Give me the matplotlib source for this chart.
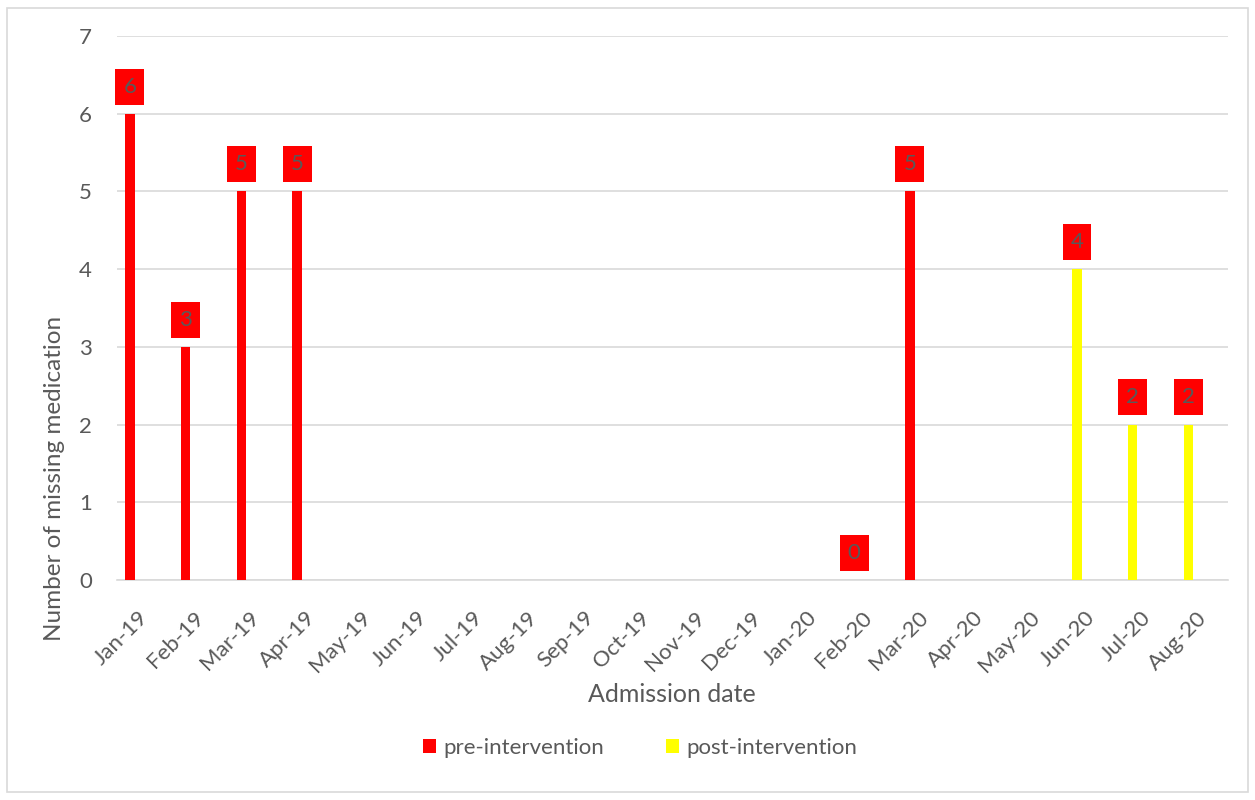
import numpy as np
import matplotlib.pyplot as plt
import matplotlib.transforms as mtransforms
from matplotlib.patches import Rectangle

# months on the axis
months = ["Jan-19", "Feb-19", "Mar-19", "Apr-19", "May-19", "Jun-19", "Jul-19",
          "Aug-19", "Sep-19", "Oct-19", "Nov-19", "Dec-19", "Jan-20", "Feb-20",
          "Mar-20", "Apr-20", "May-20", "Jun-20", "Jul-20", "Aug-20"]

# missing medication counts (nan = no data point)
pre = [6, 3, 5, 5, np.nan, np.nan, np.nan, np.nan, np.nan, np.nan, np.nan,
       np.nan, np.nan, 0, 5, np.nan, np.nan, np.nan, np.nan, np.nan]
post = [np.nan] * 17 + [4, 2, 2]

grey = "#595959"
plt.rcParams['font.family'] = ['Lato', 'DejaVu Sans']

fig = plt.figure(figsize=(12.55, 8), dpi=100)
ax = fig.add_axes([117 / 1255, 1 - 580 / 800, (1228 - 117) / 1255, (580 - 36) / 800])

x = np.arange(len(months))
pre = np.array(pre, dtype=float)
post = np.array(post, dtype=float)
ax.bar(x, np.nan_to_num(pre), width=0.17, color="#ff0000", label="pre-intervention", zorder=3)
ax.bar(x, np.nan_to_num(post), width=0.17, color="#ffff00", label="post-intervention", zorder=3)

# data labels in red boxes
for serie in (pre, post):
    for xi, v in zip(x, serie):
        if np.isnan(v):
            continue
        ax.annotate(f"{int(v)}", (xi, v), xytext=(0, 19.5), textcoords="offset points",
                    ha="center", va="center", fontsize=16, color=grey, zorder=5,
                    bbox=dict(boxstyle="square,pad=0.36", fc="#ff0000", ec="none"))

ax.set_xlim(-0.233, 19.71)
ax.set_ylim(0, 7)
ax.set_yticks(range(8))
ax.set_xticks(x)
ax.set_xticklabels(months, rotation=45, ha="right", rotation_mode="anchor")
ax.tick_params(axis="both", length=0, colors=grey, labelsize=16)
ax.tick_params(axis="x", pad=17)
ax.tick_params(axis="y", pad=18, labelsize=16)
# Excel puts the rotated labels a bit more to the right
shift = mtransforms.ScaledTranslation(8 / 100, -4 / 100, fig.dpi_scale_trans)
for lab in ax.get_xticklabels():
    lab.set_transform(lab.get_transform() + shift)
ax.grid(axis="y", color="#d9d9d9", linewidth=1.2, zorder=0)
for s in ["top", "right", "left"]:
    ax.spines[s].set_visible(False)
ax.spines["bottom"].set_color("#d9d9d9")
ax.spines["bottom"].set_linewidth(1.2)

ax.set_xlabel("Admission date", fontsize=18, color=grey, va="center")
ax.xaxis.set_label_coords((672 - 117) / 1111, -(694 - 580) / 544)
ax.set_ylabel("Number of missing medication", fontsize=17.5, color=grey, va="center")
ax.yaxis.set_label_coords((55 - 117) / 1111, (580 - 478) / 544)

fig.legend(loc="center", bbox_to_anchor=(0.51, 0.065), ncol=2, frameon=False,
           fontsize=16, labelcolor=grey, handlelength=0.6, handleheight=0.6,
           handletextpad=0.3, columnspacing=2.8)

# light border round the chart area
fig.patches.append(Rectangle((7 / 1255, 8 / 800), 1241 / 1255, 784 / 800,
                             transform=fig.transFigure, fill=False,
                             ec="#d9d9d9", lw=1.2))

fig.savefig("out.png", dpi=100)
